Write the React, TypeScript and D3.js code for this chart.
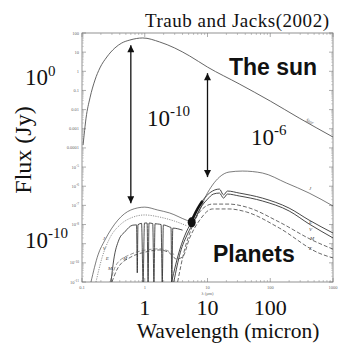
import React from "react";
import * as d3 from "d3";

type Pt = [number, number]; // [wavelength in micron, flux in Jy]

// values (Sun and planets seen from 10 pc)
const sunSpectrum: Pt[] = [
  [0.104, 1.4e-4], [0.108, 4.7e-4], [0.116, 3.6e-3], [0.134, 0.041], [0.161, 0.35],
  [0.193, 1.5], [0.249, 5.6], [0.334, 16.5], [0.43, 30], [0.58, 43], [0.93, 55],
  [1.73, 34], [3.0, 16.5], [5.2, 6.3], [10, 1.66], [32, 0.22], [100, 0.028],
  [290, 3.6e-3], [1000, 3.7e-4],
];

const jupiterSpectrum: Pt[] = [
  [0.139, 1e-11], [0.18, 2.6e-10], [0.232, 1.55e-9], [0.373, 1.7e-8], [0.6, 5.75e-8],
  [1.0, 8.1e-8], [1.6, 5.75e-8], [2.5, 4.0e-8], [4.6, 1.7e-8], [5.6, 1.35e-8],
  [7.5, 5.75e-8], [9.6, 3.5e-7], [12, 1.15e-6], [15.5, 3.0e-6], [22, 5.5e-6],
  [36, 6.2e-6], [75, 4.9e-6], [180, 1.48e-6], [416, 4.4e-7], [1000, 9.3e-8],
];

const venusReflected: Pt[] = [
  [0.167, 1e-11], [0.208, 1.8e-10], [0.278, 2.0e-9], [0.4, 9.3e-9], [0.6, 2.2e-8],
  [1.0, 3.16e-8], [1.73, 2.45e-8], [3.0, 1.5e-8], [4.8, 8.3e-9],
];

const earthReflected: Pt[] = [
  [0.29, 1e-11], [0.32, 1.4e-10], [0.386, 1.55e-9], [0.48, 4.1e-9], [0.645, 9.3e-9],
  [0.74, 9.6e-9], [0.76, 3e-11], [0.78, 9.8e-9], [0.89, 1.15e-8], [0.94, 1e-11],
  [0.99, 1.2e-8], [1.09, 1.2e-8], [1.13, 1e-11], [1.17, 1.2e-8], [1.34, 1.12e-8],
  [1.4, 1e-11], [1.46, 1.1e-8], [1.6, 1.07e-8], [1.82, 1.0e-8], [1.9, 1e-11],
  [1.98, 9.5e-9], [2.5, 7.4e-9], [2.62, 7.0e-9], [2.7, 1e-11], [2.8, 6.5e-9],
  [4.0, 5.1e-9],
];

const marsSpectrum: Pt[] = [
  [0.3, 1e-11], [0.373, 5.4e-11], [0.6, 2.0e-10], [1.0, 3.6e-10], [1.73, 4.7e-10],
  [2.5, 3.2e-10], [3.2, 1.6e-10], [4.0, 2.0e-10], [5.2, 2.0e-9], [7.5, 1.7e-8],
  [12, 6.5e-8], [22, 6.5e-8], [42, 4.5e-8], [139, 6.6e-9], [600, 3.2e-10], [1000, 1.8e-10],
];

const venusThermal: Pt[] = [
  [2.68, 1e-11], [3.6, 4.7e-10], [4.6, 4.1e-9], [5.8, 1.7e-8], [7.5, 1.05e-7],
  [9.6, 3.1e-7], [12, 5.6e-7], [15.5, 7.1e-7], [18, 3.5e-7], [20.8, 5.6e-7],
  [32, 4.4e-7], [75, 2.4e-7], [200, 7.2e-8], [416, 1.7e-8], [1000, 3.6e-9],
];

const earthThermal: Pt[] = [
  [2.9, 1e-11], [3.7, 3.6e-10], [4.8, 3.2e-9], [6.0, 1.35e-8], [7.7, 7.2e-8],
  [10, 2.1e-7], [12.4, 3.9e-7], [15.5, 4.4e-7], [18, 2.4e-7], [20.8, 3.9e-7],
  [32, 3.1e-7], [75, 1.7e-7], [200, 5.1e-8], [416, 1.07e-8], [1000, 2.0e-9],
];

const marsThermal: Pt[] = [
  [3.34, 1e-11], [4.3, 4.7e-10], [5.6, 6.6e-9], [7.5, 4.5e-8], [12, 1.17e-7],
  [22, 1.17e-7], [42, 8.1e-8], [139, 1.35e-8], [464, 1.55e-9], [1000, 5.2e-10],
];

const marsReflected2: Pt[] = [
  [0.28, 1e-11], [0.36, 9e-11], [0.6, 2.8e-10], [1.0, 4.6e-10], [1.73, 5.4e-10],
  [2.5, 3.8e-10], [3.0, 2.6e-10],
];

const waterBand: Pt[] = [[5.3, 1.1e-8], [6.0, 2.6e-8], [7.0, 7e-8], [8.3, 1.7e-7]];

const arrows = [
  { wl: 0.6, top: 23, bottom: 1.3e-7 },
  { wl: 10, top: 0.8, bottom: 3e-6 },
];

const planetTags: { text: string; wl: number; flux: number }[] = [
  { text: "J", wl: 416, flux: 6.3e-7 },
  { text: "E", wl: 416, flux: 1.1e-8 },
  { text: "V", wl: 416, flux: 4.6e-9 },
  { text: "M", wl: 430, flux: 1.55e-9 },
  { text: "Σ", wl: 416, flux: 4.7e-10 },
  { text: "J", wl: 0.215, flux: 1.6e-9 },
  { text: "V", wl: 0.215, flux: 4.7e-10 },
  { text: "E", wl: 0.24, flux: 1.4e-10 },
  { text: "M", wl: 0.26, flux: 4.3e-11 },
  { text: "M", wl: 0.45, flux: 1.4e-10 },
];

const xTickLabels = ["0.1", "1", "10", "100", "1000"];
const yTickLabels = ["100", "10", "1", "0.1", "0.01", "0.001", "0.0001", "-5", "-6", "-7", "-8", "", "-10", "-11"];
const bigXLabels = ["1", "10", "100"];

const serif = "'Liberation Serif', 'Times New Roman', serif";
const sans = "'Liberation Sans', Arial, sans-serif";

export default function App() {
  const x = d3.scaleLog().domain([0.1, 1000]).range([82, 333]);
  const y = d3.scaleLog().domain([1e-11, 100]).range([282, 33]);
  const line = d3
    .line<Pt>()
    .x((d) => x(d[0]))
    .y((d) => y(d[1]))
    .curve(d3.curveMonotoneX);

  const series = [
    { d: sunSpectrum, w: 0.9, c: "#555", dash: "" },
    { d: jupiterSpectrum, w: 0.7, c: "#444", dash: "" },
    { d: venusReflected, w: 0.8, c: "#777", dash: "1.2 1.2" },
    { d: earthReflected, w: 0.8, c: "#222", dash: "" },
    { d: marsSpectrum, w: 0.8, c: "#444", dash: "4 2" },
    { d: marsReflected2, w: 0.7, c: "#666", dash: "4 2" },
    { d: venusThermal, w: 0.9, c: "#333", dash: "" },
    { d: earthThermal, w: 0.9, c: "#333", dash: "" },
    { d: marsThermal, w: 0.8, c: "#444", dash: "4 2" },
  ];

  const xMajor = d3.range(-1, 4).map((k) => Math.pow(10, k));
  const yMajor = d3.range(-11, 3).map((k) => Math.pow(10, k));
  const minor = (lo: number, hi: number) =>
    d3.range(lo, hi).flatMap((k) => d3.range(2, 10).map((m) => m * Math.pow(10, k)));
  const xMinor = minor(-1, 3);
  const yMinor = minor(-11, 2);

  const [x0, x1] = x.range();
  const [y0, y1] = y.range();

  return (
    <svg
      width={338}
      height={348}
      style={{ position: "absolute", left: 0, top: 0, background: "#fff" }}
    >
      <defs>
        <clipPath id="plot">
          <rect x={x0} y={y1} width={x1 - x0} height={y0 - y1} />
        </clipPath>
        <marker
          id="head"
          viewBox="0 0 10 10"
          refX={10}
          refY={5}
          markerUnits="userSpaceOnUse"
          markerWidth={8}
          markerHeight={7}
          orient="auto-start-reverse"
        >
          <path d="M0,0 L10,5 L0,10 z" fill="#111" />
        </marker>
      </defs>

      {/* frame and ticks */}
      <rect x={x0} y={y1} width={x1 - x0} height={y0 - y1} fill="none" stroke="#777" strokeWidth={0.8} />
      {xMajor.map((v) => (
        <g key={"xm" + v} stroke="#777" strokeWidth={0.6}>
          <line x1={x(v)} x2={x(v)} y1={y0} y2={y0 - 4} />
          <line x1={x(v)} x2={x(v)} y1={y1} y2={y1 + 4} />
        </g>
      ))}
      {xMinor.map((v) => (
        <g key={"xn" + v} stroke="#888" strokeWidth={0.5}>
          <line x1={x(v)} x2={x(v)} y1={y0} y2={y0 - 2} />
          <line x1={x(v)} x2={x(v)} y1={y1} y2={y1 + 2} />
        </g>
      ))}
      {yMajor.map((v) => (
        <g key={"ym" + v} stroke="#777" strokeWidth={0.6}>
          <line x1={x0} x2={x0 + 4} y1={y(v)} y2={y(v)} />
          <line x1={x1} x2={x1 - 4} y1={y(v)} y2={y(v)} />
        </g>
      ))}
      {yMinor.map((v) => (
        <g key={"yn" + v} stroke="#999" strokeWidth={0.4}>
          <line x1={x0} x2={x0 + 2} y1={y(v)} y2={y(v)} />
          <line x1={x1} x2={x1 - 2} y1={y(v)} y2={y(v)} />
        </g>
      ))}

      {/* small tick labels of the original plot */}
      {xMajor.map((v, i) => (
        <text key={"xl" + v} x={x(v)} y={y0 + 7} fontSize={4.5} fill="#666" textAnchor="middle" fontFamily={serif}>
          {xTickLabels[i]}
        </text>
      ))}
      <text x={x(10)} y={y0 + 13} fontSize={4.5} fill="#666" textAnchor="middle" fontFamily={serif}>
        λ (μm)
      </text>
      {yMajor
        .slice()
        .reverse()
        .map((v, i) =>
          yTickLabels[i] === "" ? null : (
            <text key={"yl" + v} x={x0 - 3} y={y(v) + 1.5} fontSize={4.5} fill="#666" textAnchor="end" fontFamily={serif}>
              {yTickLabels[i].startsWith("-") ? (
                <>
                  10<tspan dy={-1.5} fontSize={3.5}>{yTickLabels[i]}</tspan>
                </>
              ) : (
                yTickLabels[i]
              )}
            </text>
          )
        )}

      {/* spectra */}
      <g clipPath="url(#plot)" fill="none">
        {series.map((s, i) => (
          <path key={i} d={line(s.d) || ""} stroke={s.c} strokeWidth={s.w} strokeDasharray={s.dash || undefined} />
        ))}
        <path d={line(waterBand) || ""} stroke="#111" strokeWidth={2.6} />
        <ellipse cx={x(5.6)} cy={y(1.3e-8)} rx={4} ry={5} fill="#111" />
      </g>

      {planetTags.map((t, i) => (
        <text key={"pt" + i} x={x(t.wl)} y={y(t.flux)} fontSize={5} fill="#444" fontStyle="italic" fontFamily={serif}>
          {t.text}
        </text>
      ))}
      <text
        x={x(416)}
        y={y(2e-3)}
        fontSize={5}
        fill="#555"
        fontStyle="italic"
        fontFamily={serif}
        transform={`rotate(28 ${x(416)} ${y(2e-3)})`}
        textAnchor="middle"
      >
        Star
      </text>

      {/* contrast arrows */}
      {arrows.map((a, i) => (
        <line
          key={"ar" + i}
          x1={x(a.wl)}
          x2={x(a.wl)}
          y1={y(a.top)}
          y2={y(a.bottom)}
          stroke="#111"
          strokeWidth={1.3}
          markerStart="url(#head)"
          markerEnd="url(#head)"
        />
      ))}

      {/* overlay annotations */}
      <text x={145} y={27} fontSize={19} fontFamily={serif} textLength={184} fill="#111">
        Traub and Jacks(2002)
      </text>
      <text x={25} y={85} fontSize={23} fontFamily={serif} fill="#111">
        10<tspan dy={-9} fontSize={15}>0</tspan>
      </text>
      <text x={229} y={75} fontSize={23} fontFamily={sans} fontWeight="bold" fill="#111">
        The sun
      </text>
      <text x={147} y={126} fontSize={23} fontFamily={serif} fill="#111">
        10<tspan dy={-10} fontSize={15}>-10</tspan>
      </text>
      <text x={251} y={145} fontSize={23} fontFamily={serif} fill="#111">
        10<tspan dy={-10} fontSize={15}>-6</tspan>
      </text>
      <text x={25} y={248} fontSize={23} fontFamily={serif} fill="#111">
        10<tspan dy={-10} fontSize={15}>-10</tspan>
      </text>
      <text x={213} y={262} fontSize={23} fontFamily={sans} fontWeight="bold" fill="#111">
        Planets
      </text>
      <text
        x={31}
        y={150}
        fontSize={24}
        fontFamily={serif}
        fill="#111"
        textAnchor="middle"
        transform="rotate(-90 31 150)"
      >
        Flux (Jy)
      </text>
      {bigXLabels.map((t) => (
        <text key={"bx" + t} x={x(+t)} y={315} fontSize={22} fontFamily={serif} textAnchor="middle" fill="#111">
          {t}
        </text>
      ))}
      <text x={228} y={338} fontSize={21.5} fontFamily={serif} textAnchor="middle" fill="#111">
        Wavelength (micron)
      </text>
    </svg>
  );
}
